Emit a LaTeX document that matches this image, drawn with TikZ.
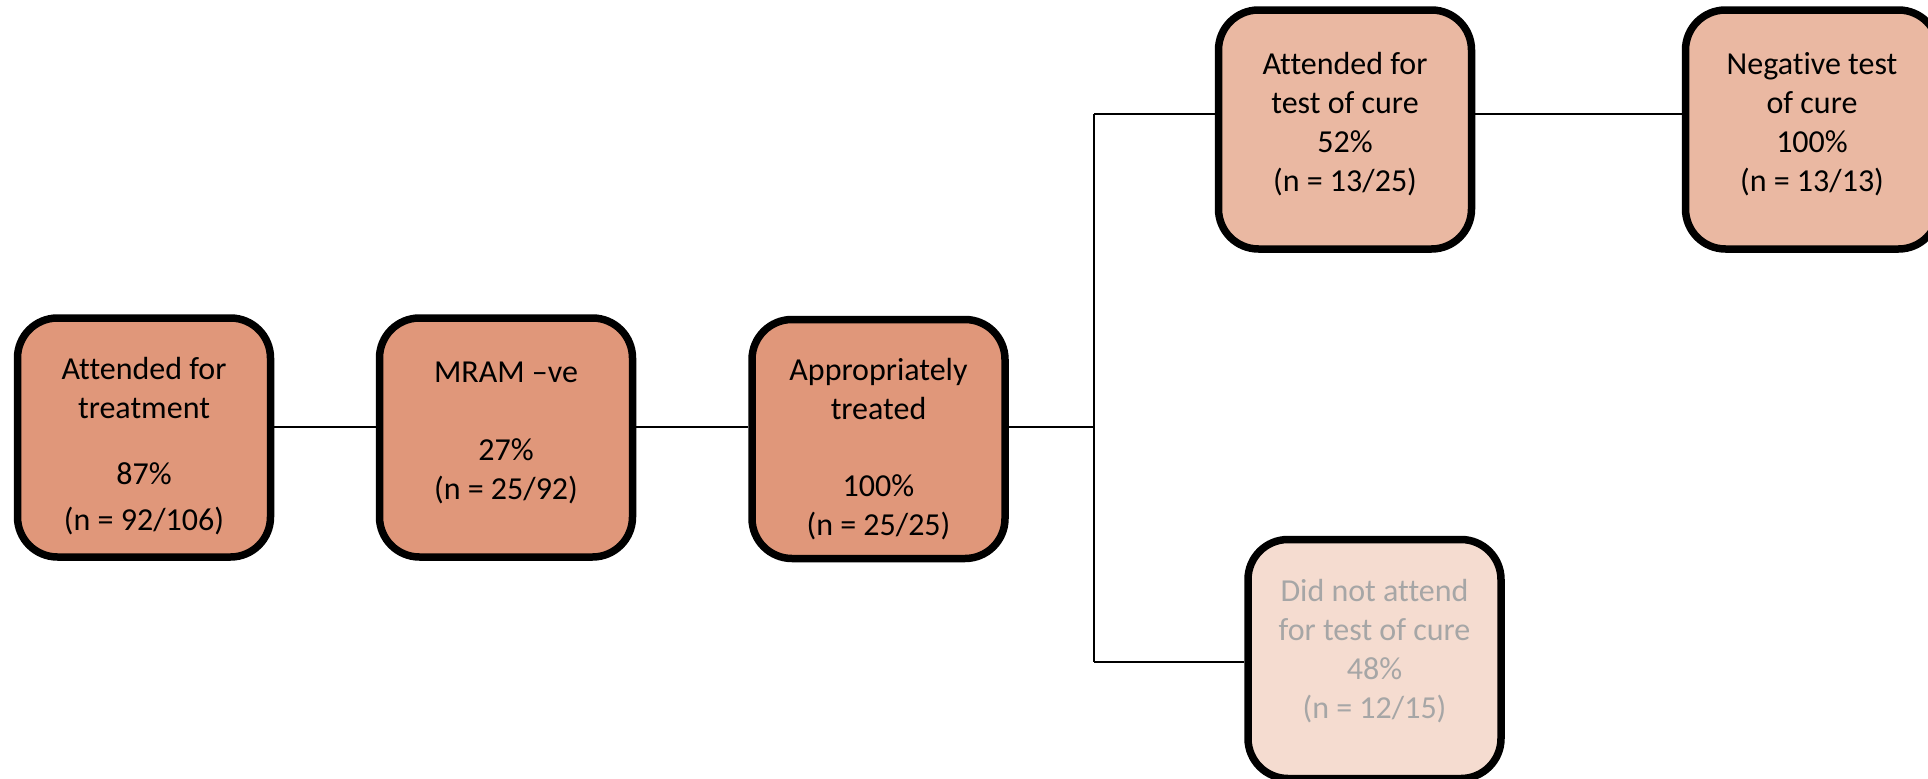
\documentclass[tikz,border=0pt]{standalone}
\usepackage{fontspec}
\setmainfont{Carlito}[Ligatures=NoCommon]
\definecolor{boxA}{HTML}{E0977A}
\definecolor{boxB}{HTML}{EAB8A2}
\definecolor{boxC}{HTML}{F5DCD0}
\definecolor{greytext}{HTML}{A6A6A6}
\begin{document}
\begin{tikzpicture}[x=1pt,y=-1pt,
  flowbox/.style={draw=black, line width=7.5pt, rounded corners=40pt,
    minimum width=253pt, minimum height=239pt, inner sep=0pt},
  txt/.style={anchor=north, inner sep=0pt, align=center,
    font=\fontsize{32}{39}\selectfont},
  conn/.style={draw=black, line width=2pt}]
\useasboundingbox (0,0) rectangle (1928,779);
\node[flowbox, fill=boxA] (b1) at (144,437.5) {};
\node[flowbox, fill=boxA] (b2) at (506,437.5) {};
\node[flowbox, fill=boxA] (b3) at (878.5,439) {};
\node[flowbox, fill=boxB] (b4) at (1345,129.5) {};
\node[flowbox, fill=boxB] (b5) at (1812,129.5) {};
\node[flowbox, fill=boxC] (b6) at (1374.5,659) {};
\node[txt] (t1) at (144,357) {Attended for\\treatment\\[27pt]87\%\\[7pt](n = 92/106)};
\node[txt] (t2) at (506,362) {MRAM –ve\\[39pt]27\%\\(n = 25/92)};
\node[txt] (t3) at (878.5,358) {Appropriately\\treated\\[38pt]100\%\\(n = 25/25)};
\node[txt] (t4) at (1345,52) {Attended for\\test of cure\\52\%\\(n = 13/25)};
\node[txt] (t5) at (1812,52) {Negative test\\of cure\\100\%\\(n = 13/13)};
\node[txt, text=greytext] (t6) at (1374.5,579) {Did not attend\\for test of cure\\48\%\\(n = 12/15)};
\coordinate (j) at (1094,427);
\coordinate (jt) at (1094,114);
\coordinate (jb) at (1094,661.5);
\draw[conn] (b1.east |- j) -- (b2.west |- j);
\draw[conn] (b2.east |- j) -- (b3.west |- j);
\draw[conn] (b3.east |- j) -- (j);
\draw[conn] (jt) -- (jb);
\draw[conn] (jt) -- (b4.west |- jt);
\draw[conn] (b4.east |- jt) -- (b5.west |- jt);
\draw[conn] (jb) -- (b6.west |- jb);
\end{tikzpicture}
\end{document}
